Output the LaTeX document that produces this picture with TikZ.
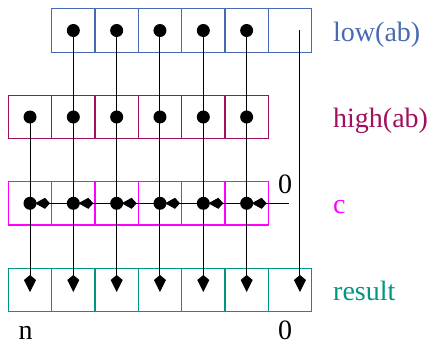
\documentclass[tikz,border=0pt]{standalone}
\usepackage{fontspec}
\setmainfont{Liberation Serif}
\usetikzlibrary{arrows.meta}
\definecolor{lowc}{RGB}{72,106,178}
\definecolor{highc}{RGB}{160,16,92}
\definecolor{cc}{RGB}{255,0,255}
\definecolor{resc}{RGB}{0,150,128}
\begin{document}
\begin{tikzpicture}[x=1pt,y=-1pt,
  cell/.style={draw,minimum width=43.33pt,minimum height=43.33pt,inner sep=0pt,outer sep=0pt,line width=1.2pt},
  lab/.style={anchor=base west,inner sep=0pt,font=\fontsize{28}{30}\selectfont},
  num/.style={anchor=base,inner sep=0pt,font=\fontsize{28}{30}\selectfont},
  dotc/.style={fill=black,draw=none,circle,minimum size=13pt,inner sep=0pt},
  wire/.style={line width=1pt,-{Kite[length=17pt,width=12pt,inset=5pt]}},
  carry/.style={line width=1pt,-{Kite[length=15pt,width=11pt,inset=5pt]},shorten >=5pt}
]
\useasboundingbox (0,0) rectangle (431,345);
% rows of cells
\foreach \k in {1,...,6} \node[cell,draw=lowc] (L\k) at (30+43.33*\k,30.5) {};
\foreach \k in {0,...,5} \node[cell,draw=highc] (H\k) at (30+43.33*\k,117) {};
\foreach \k in {0,...,5} \node[cell,draw=cc] (C\k) at (30+43.33*\k,203.3) {};
\foreach \k in {0,...,6} \node[cell,draw=resc] (R\k) at (30+43.33*\k,290) {};
% special column
\coordinate (z6) at ([xshift=10pt]L6.center);
\coordinate (r6) at ([xshift=10pt,yshift=-2pt]R6.center);
\coordinate (cz) at (289,203.3);
% vertical wires
\foreach \k in {1,...,5} \draw[wire] (L\k.center) -- ([yshift=-2pt]R\k.center);
\draw[wire] (H0.center) -- ([yshift=-2pt]R0.center);
\draw[wire] (z6) -- (r6);
% carry chain
\draw[carry] (cz) -- (C5.center);
\foreach \k/\j in {5/4,4/3,3/2,2/1,1/0} \draw[carry] (C\k.center) -- (C\j.center);
% dots
\foreach \k in {1,...,5} \node[dotc] (dl\k) at (L\k.center) {};
\foreach \k in {0,...,5} \node[dotc] (dh\k) at (H\k.center) {};
\foreach \k in {0,...,5} \node[dotc] (dc\k) at (C\k.center) {};
% labels
\node[lab,text=lowc] (tl) at (333,42) {low(ab)};
\node[lab,text=highc] (th) at (333,127) {high(ab)};
\node[lab,text=cc] (tc) at (333,213) {c};
\node[lab,text=resc] (tr) at (333,300) {result};
\node[num] (c0) at (285,193) {0};
\node[num] (n) at (25.5,339) {n};
\node[num] (r0) at (285,339) {0};
\end{tikzpicture}
\end{document}
